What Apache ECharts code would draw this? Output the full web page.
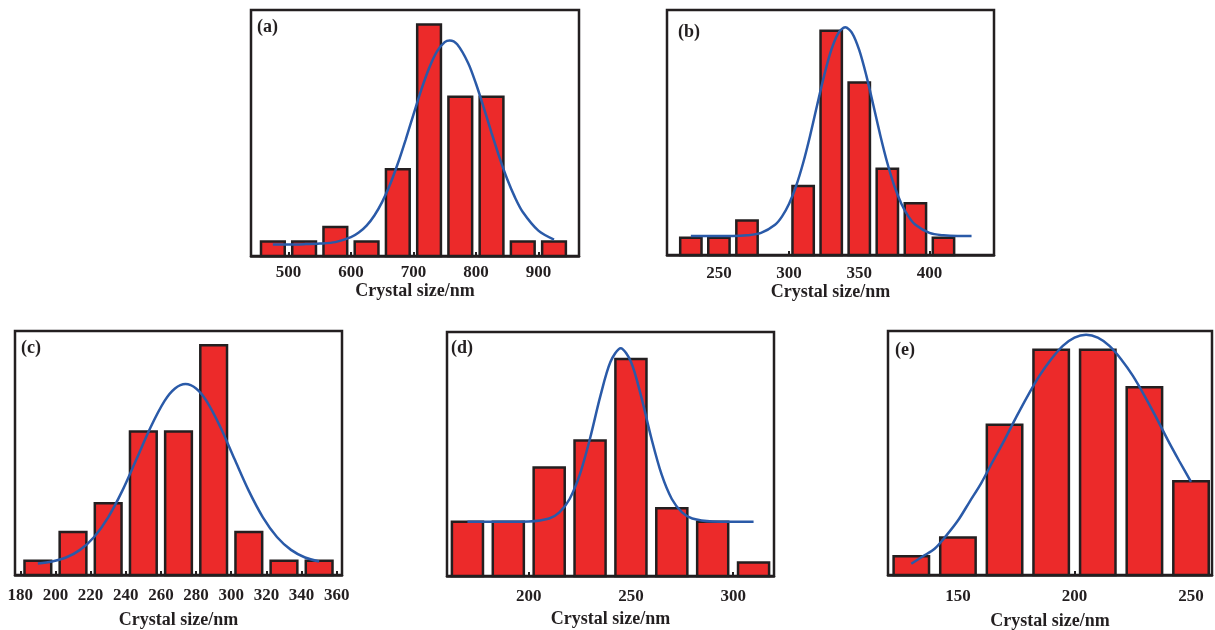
<!DOCTYPE html>
<html>
<head>
<meta charset="utf-8">
<title>Crystal size distributions</title>
<script src="https://cdn.jsdelivr.net/npm/echarts@6/dist/echarts.min.js"></script>
<style>
  html, body { margin: 0; padding: 0; background: #fff; }
  #chart { width: 1215px; height: 630px; }
</style>
</head>
<body>
<div id="chart"></div>
<script>
// (a)
const aCenters = [475, 525, 575, 625, 675, 725, 775, 825, 875, 925]
const aCounts = [1, 1, 2, 1, 6, 16, 11, 11, 1, 1]
const aFitX = [475, 500, 525, 550, 575, 600, 612.5, 625, 637.5, 650, 662.5, 675, 687.5, 700, 712.5, 725, 737.5, 750, 758,
  770, 787.5, 800, 812.5, 825, 837.5, 850, 862.5, 875, 900, 925]
const aFitY = [0.8, 0.8, 0.82, 0.86, 0.96, 1.3, 1.62, 2.1, 2.8, 3.74, 4.94, 6.39, 8.03, 9.77, 11.48, 12.98, 14.13, 14.78, 14.9,
  14.63, 13.34, 11.92, 10.26, 8.51, 6.83, 5.32, 4.05, 3.04, 1.75, 1.13]
const aTicks = [500, 600, 700, 800, 900]

// (b)
const bCenters = [230, 250, 270, 290, 310, 330, 350, 370, 390, 410]
const bCounts = [1, 1, 2, 0, 4, 13, 10, 5, 3, 1]
const bFitX = [230, 240, 250, 260, 270, 280, 290, 295, 300, 305, 310, 315, 320, 325, 330, 335, 340,
  345, 350, 355, 360, 365, 370, 375, 380, 385, 390, 400, 410, 420, 430]
const bFitY = [1.1, 1.1, 1.1, 1.1, 1.14, 1.28, 1.75, 2.24, 2.97, 4.0, 5.33, 6.93, 8.69, 10.41, 11.87, 12.85, 13.2,
  12.85, 11.87, 10.41, 8.69, 6.93, 5.33, 4.0, 2.97, 2.24, 1.75, 1.28, 1.14, 1.1, 1.1]
const bTicks = [250, 300, 350, 400]

// (c)
const cCenters = [190, 210, 230, 250, 270, 290, 310, 330, 350]
const cCounts = [1, 3, 5, 10, 10, 16, 3, 1, 1]
const cFitX = [190, 198, 206, 214, 222, 230, 238, 246, 254, 262, 268, 274, 280, 286, 294, 302, 310, 318, 326, 334, 342, 350]
const cFitY = [0.8, 0.94, 1.22, 1.75, 2.65, 4.02, 5.86, 8.04, 10.26, 12.11, 12.99, 13.3, 12.99, 12.11, 10.26, 8.04, 5.86, 4.02, 2.65, 1.75, 1.22, 0.94]
const cTicks = [180, 200, 220, 240, 260, 280, 300, 320, 340, 360]

// (d)
const dCenters = [170, 190, 210, 230, 250, 270, 290, 310]
const dCounts = [4, 4, 8, 10, 16, 5, 4, 1]
const dFitX = [170, 180, 190, 200, 210, 215, 220, 225, 230, 235, 240, 245, 250, 255, 260, 265, 270, 275, 280, 290, 300, 310]
const dFitY = [4, 4, 4, 4.02, 4.24, 4.69, 5.68, 7.49, 10.16, 13.25, 15.8, 16.8, 15.8, 13.25, 10.16, 7.49, 5.68, 4.69, 4.24, 4.02, 4, 4]
const dTicks = [200, 250, 300]

// (e)
const eCenters = [130, 150, 170, 190, 210, 230, 250]
const eCounts = [1, 2, 8, 12, 12, 10, 5]
const eFitX = [130, 135, 140, 145, 150, 155, 160, 165, 170, 175, 180, 185, 190, 195, 200, 205,
  210, 215, 220, 225, 230, 235, 240, 245, 250]
const eFitY = [0.6, 1.0, 1.4, 2.1, 2.9, 3.9, 4.9, 6.06, 7.2, 8.41, 9.56, 10.62, 11.5, 12.21, 12.65, 12.8,
  12.65, 12.21, 11.5, 10.62, 9.56, 8.41, 7.2, 6.06, 4.96]
const eTicks = [150, 200, 250]

const RED = '#ec2a2a'
const INK = '#231f20'
const BLUE = '#2a5aa8'
const FONT = '"Liberation Serif", "Times New Roman", serif'

const panels = [
  { tag: '(a)', centers: aCenters, counts: aCounts, bin: 50, fitX: aFitX, fitY: aFitY, ticks: aTicks,
    xMin: 440, xMax: 965, yMax: 17, left: 251, top: 10, width: 328, height: 246, margin: 8, nameGap: 26, tagLeft: 257, tagTop: 18 },
  { tag: '(b)', centers: bCenters, counts: bCounts, bin: 20, fitX: bFitX, fitY: bFitY, ticks: bTicks,
    xMin: 213, xMax: 446, yMax: 14.2, left: 667, top: 10, width: 327, height: 245, margin: 10, nameGap: 26, tagLeft: 678, tagTop: 23 },
  { tag: '(c)', centers: cCenters, counts: cCounts, bin: 20, fitX: cFitX, fitY: cFitY, ticks: cTicks,
    xMin: 177, xMax: 363, yMax: 17, left: 15, top: 331, width: 327, height: 244, margin: 12, nameGap: 36, tagLeft: 21, tagTop: 339 },
  { tag: '(d)', centers: dCenters, counts: dCounts, bin: 20, fitX: dFitX, fitY: dFitY, ticks: dTicks,
    xMin: 160, xMax: 320, yMax: 18, left: 447, top: 332, width: 327, height: 244, margin: 12, nameGap: 34, tagLeft: 451, tagTop: 339 },
  { tag: '(e)', centers: eCenters, counts: eCounts, bin: 20, fitX: eFitX, fitY: eFitY, ticks: eTicks,
    xMin: 120, xMax: 259, yMax: 13, left: 888, top: 331, width: 324, height: 244, margin: 13, nameGap: 37, tagLeft: 895, tagTop: 341 }
]

const option = {
  animation: false,
  backgroundColor: '#fff',
  title: [],
  grid: [],
  xAxis: [],
  yAxis: [],
  series: []
}

panels.forEach(function (p, i) {
  option.title.push({
    text: p.tag,
    left: p.tagLeft,
    top: p.tagTop,
    padding: 0,
    textStyle: { fontFamily: FONT, fontWeight: 'bold', fontSize: 18, color: INK }
  })
  option.grid.push({
    left: p.left, top: p.top, width: p.width, height: p.height,
    show: true, borderColor: INK, borderWidth: 2.5, backgroundColor: 'transparent',
    outerBoundsMode: 'none'
  })
  option.xAxis.push({
    gridIndex: i,
    type: 'value',
    min: p.xMin,
    max: p.xMax,
    name: 'Crystal size/nm',
    nameLocation: 'middle',
    nameGap: p.nameGap,
    nameTextStyle: { fontFamily: FONT, fontWeight: 'bold', fontSize: 18, color: INK },
    axisLine: { show: true, lineStyle: { color: INK, width: 2.5 } },
    axisTick: { show: true, inside: true, length: 4, customValues: p.ticks, lineStyle: { color: INK, width: 2 } },
    axisLabel: { margin: p.margin, customValues: p.ticks, fontFamily: FONT, fontWeight: 'bold', fontSize: 17, color: INK },
    splitLine: { show: false }
  })
  option.yAxis.push({
    gridIndex: i,
    type: 'value',
    min: 0,
    max: p.yMax,
    show: false,
    splitLine: { show: false }
  })
  const bin = p.bin
  option.series.push({
    type: 'custom',
    xAxisIndex: i,
    yAxisIndex: i,
    data: p.centers.map(function (c, k) { return [c, p.counts[k]] }),
    renderItem: function (params, api) {
      const c = api.value(0)
      const n = api.value(1)
      if (!n) return null
      const half = bin * 0.38
      const p1 = api.coord([c - half, n])
      const p2 = api.coord([c + half, 0])
      return {
        type: 'rect',
        shape: { x: p1[0], y: p1[1], width: p2[0] - p1[0], height: p2[1] - p1[1] },
        style: { fill: RED, stroke: INK, lineWidth: 2.5 }
      }
    },
    z: 2
  })
  option.series.push({
    type: 'line',
    xAxisIndex: i,
    yAxisIndex: i,
    data: p.fitX.map(function (x, k) { return [x, p.fitY[k]] }),
    smooth: 0.3,
    symbol: 'none',
    lineStyle: { color: BLUE, width: 2.5 },
    z: 3
  })
})

const myChart = echarts.init(document.getElementById('chart'), null, { renderer: 'canvas' })
myChart.setOption(option)
</script>
</body>
</html>
